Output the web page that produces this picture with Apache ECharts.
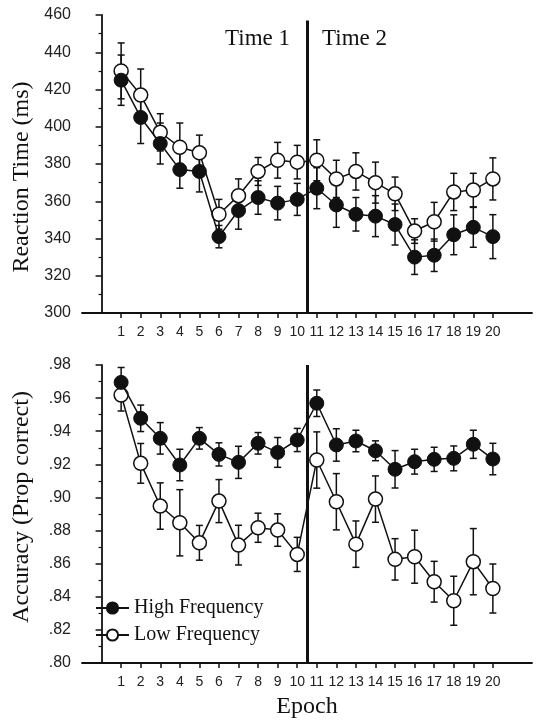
<!DOCTYPE html>
<html>
<head>
<meta charset="utf-8">
<script src="https://cdn.jsdelivr.net/npm/echarts@6/dist/echarts.min.js"></script>
<style>html,body{margin:0;padding:0;background:#fff}#c{width:537px;height:727px}</style>
</head>
<body>
<div id="c"></div>
<script>
const epochs = [1,2,3,4,5,6,7,8,9,10,11,12,13,14,15,16,17,18,19,20];
const seriesNames = ['High Frequency', 'Low Frequency'];
const phaseLabels = ['Time 1', 'Time 2'];
const phaseBoundary = 10.5;

const rtHigh    = [425, 405, 391, 377, 376, 341, 355, 362, 359, 361, 367, 358, 353, 352, 347.5, 330, 331, 342, 346, 341];
const rtHighErr = [13.5, 14, 11, 10, 11, 6, 10, 9, 9, 8.6, 11, 12, 9, 11, 11, 9.3, 8.7, 10.7, 10.7, 11.8];
const rtLow     = [430, 417, 397, 389, 386, 353, 363, 376, 382, 381, 382, 372, 376, 370, 364, 344, 349, 365, 366, 372];
const rtLowErr  = [15, 14, 10, 13, 9.5, 8, 9, 7.5, 9.6, 9, 11, 10, 10, 11, 9, 6.6, 10.4, 10, 9, 11.3];

const accHigh    = [0.9695, 0.9478, 0.9357, 0.9196, 0.9357, 0.926, 0.9212, 0.9327, 0.9272, 0.9347, 0.9569, 0.9317, 0.9341, 0.9282, 0.917, 0.9216, 0.923, 0.9236, 0.9321, 0.9232];
const accHighErr = [0.009, 0.008, 0.0095, 0.0095, 0.0065, 0.007, 0.0097, 0.0065, 0.009, 0.007, 0.008, 0.0098, 0.0065, 0.006, 0.0113, 0.0075, 0.0073, 0.0075, 0.0085, 0.0095];
const accLow     = [0.9619, 0.9206, 0.8948, 0.8847, 0.8726, 0.8978, 0.8712, 0.8817, 0.8803, 0.8656, 0.9226, 0.8974, 0.8718, 0.899, 0.8626, 0.8642, 0.8491, 0.8376, 0.8612, 0.845];
const accLowErr  = [0.0097, 0.012, 0.014, 0.020, 0.0105, 0.013, 0.012, 0.0088, 0.0098, 0.0103, 0.017, 0.017, 0.014, 0.014, 0.0125, 0.016, 0.0123, 0.0148, 0.020, 0.0148];

const rtTicks  = [300, 320, 340, 360, 380, 400, 420, 440, 460];
const accTicks = [0.80, 0.82, 0.84, 0.86, 0.88, 0.90, 0.92, 0.94, 0.96, 0.98];

const SERIF = '"Liberation Serif", "Times New Roman", serif';
const SANS = '"Liberation Sans", Arial, sans-serif';
const INK = '#111';

function pairs(vals) { return epochs.map((e, i) => [e, vals[i]]); }
function errData(vals, errs) { return epochs.map((e, i) => [e, vals[i] - errs[i], vals[i] + errs[i]]); }

function errRender(params, api) {
  const x = api.value(0), lo = api.value(1), hi = api.value(2);
  const pLo = api.coord([x, lo]), pHi = api.coord([x, hi]);
  const hw = 3.5;
  const st = { stroke: INK, lineWidth: 1.5 };
  return { type: 'group', children: [
    { type: 'line', shape: { x1: pLo[0], y1: pLo[1], x2: pHi[0], y2: pHi[1] }, style: st },
    { type: 'line', shape: { x1: pHi[0] - hw, y1: pHi[1], x2: pHi[0] + hw, y2: pHi[1] }, style: st },
    { type: 'line', shape: { x1: pLo[0] - hw, y1: pLo[1], x2: pLo[0] + hw, y2: pLo[1] }, style: st }
  ]};
}

function xAxisDef(idx, withName) {
  return {
    type: 'value', gridIndex: idx, min: -1, max: 22,
    axisLine: { lineStyle: { color: INK, width: 1.8 } },
    axisTick: { customValues: epochs, length: 5, lineStyle: { color: INK, width: 1.5 } },
    axisLabel: { customValues: epochs, color: '#222', fontFamily: SANS, fontSize: 14, margin: 12 },
    splitLine: { show: false },
    name: withName ? 'Epoch' : '', nameLocation: 'middle', nameGap: 32,
    nameTextStyle: { fontFamily: SERIF, fontSize: 24, color: INK }
  };
}

function yAxisDef(idx, ticks, name, fmt, pad) {
  return {
    type: 'value', gridIndex: idx, min: ticks[0], max: ticks[ticks.length - 1],
    interval: +(ticks[1] - ticks[0]).toFixed(4),
    axisLine: { show: true, lineStyle: { color: INK, width: 1.8 } },
    axisTick: { show: true, length: 6, lineStyle: { color: INK, width: 1.5 } },
    minorTick: { show: true, splitNumber: 2, length: 3, lineStyle: { color: INK, width: 1.2 } },
    axisLabel: { color: '#222', fontFamily: SANS, fontSize: 16, margin: 11, formatter: fmt },
    splitLine: { show: false },
    name: name, nameLocation: 'middle', nameRotate: 90, nameGap: 48,
    nameTextStyle: { fontFamily: SERIF, fontSize: 24, color: INK, padding: pad }
  };
}

const filledStyle = { color: INK, borderColor: INK, borderWidth: 1 };
const openStyle = { color: '#fff', borderColor: INK, borderWidth: 1.5 };

function lineSeries(name, idx, vals, style, z, mark) {
  const s = {
    type: 'line', name: name, xAxisIndex: idx, yAxisIndex: idx,
    data: pairs(vals), symbol: 'circle', symbolSize: 14, z: z,
    lineStyle: { color: INK, width: 1.5 }, itemStyle: style,
    emphasis: { disabled: true }, animation: false
  };
  if (mark) s.markLine = mark;
  return s;
}

function errSeries(idx, vals, errs, z) {
  return { type: 'custom', xAxisIndex: idx, yAxisIndex: idx, data: errData(vals, errs),
    renderItem: errRender, z: z, silent: true, animation: false };
}

const chart = echarts.init(document.getElementById('c'), null, { renderer: 'canvas' });

const option = {
  backgroundColor: '#fff',
  animation: false,
  grid: [
    { left: 82, top: 15, width: 450, height: 298, outerBoundsMode: 'none' },
    { left: 82, top: 365, width: 450, height: 298, outerBoundsMode: 'none' }
  ],
  xAxis: [xAxisDef(0, false), xAxisDef(1, true)],
  yAxis: [
    yAxisDef(0, rtTicks, 'Reaction Time (ms)', v => String(Math.round(v)), [0, 26, 0, 0]),
    yAxisDef(1, accTicks, 'Accuracy (Prop correct)', v => v.toFixed(2).replace(/^0/, ''), [0, 0, 0, 14])
  ],
  legend: {
    data: seriesNames, orient: 'vertical', left: 95, top: 598, padding: 0,
    itemWidth: 33, itemHeight: 14, itemGap: 7,
    textStyle: { fontFamily: SERIF, fontSize: 20, color: INK },
    selectedMode: false
  },
  graphic: [
    { type: 'text', left: 225, top: 27, style: { text: phaseLabels[0], font: '23px ' + SERIF, fill: INK } },
    { type: 'text', left: 322, top: 27, style: { text: phaseLabels[1], font: '23px ' + SERIF, fill: INK } }
  ],
  series: [
    errSeries(0, rtLow, rtLowErr, 1),
    errSeries(0, rtHigh, rtHighErr, 1),
    lineSeries(seriesNames[1], 0, rtLow, openStyle, 3, {
      silent: true, symbol: ['none', 'none'], label: { show: false },
      lineStyle: { color: INK, width: 3, type: 'solid' },
      data: [[{ coord: [phaseBoundary, 457] }, { coord: [phaseBoundary, rtTicks[0]] }]]
    }),
    lineSeries(seriesNames[0], 0, rtHigh, filledStyle, 4),
    errSeries(1, accLow, accLowErr, 1),
    errSeries(1, accHigh, accHighErr, 1),
    lineSeries(seriesNames[1], 1, accLow, openStyle, 3, {
      silent: true, symbol: ['none', 'none'], label: { show: false },
      lineStyle: { color: INK, width: 3, type: 'solid' },
      data: [[{ coord: [phaseBoundary, accTicks[accTicks.length - 1]] }, { coord: [phaseBoundary, accTicks[0]] }]]
    }),
    lineSeries(seriesNames[0], 1, accHigh, filledStyle, 4)
  ]
};
chart.setOption(option);
</script>
</body>
</html>
